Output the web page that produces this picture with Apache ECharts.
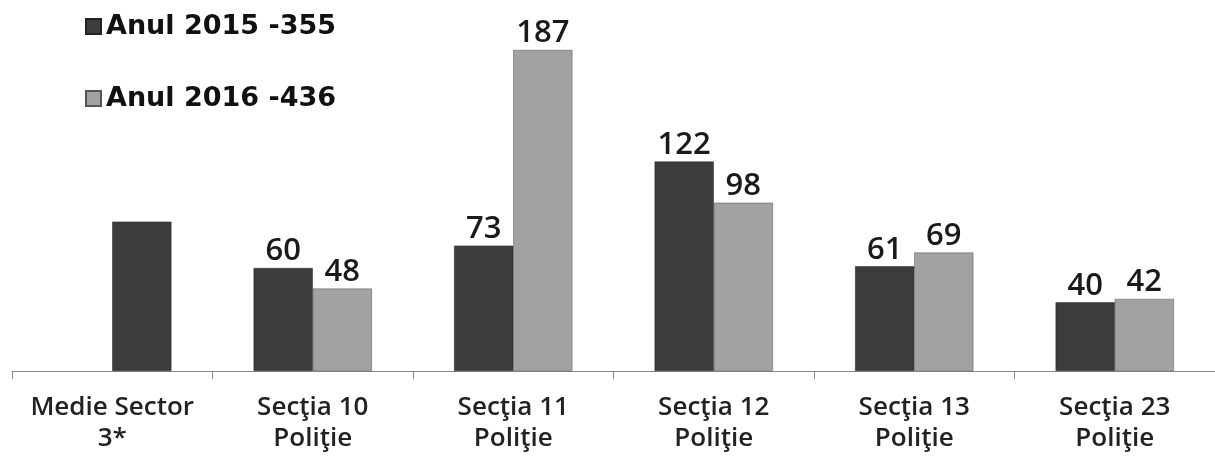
<!DOCTYPE html>
<html><head><meta charset="utf-8">
<script src="https://cdn.jsdelivr.net/npm/echarts@6/dist/echarts.min.js"></script>
<style>html,body{margin:0;padding:0;background:#fff}#c{width:1215px;height:456px}</style>
</head><body><div id="c"></div>
<script>
const categories = ['Medie Sector\n3*', 'Secţia 10\nPoliţie', 'Secţia 11\nPoliţie', 'Secţia 12\nPoliţie', 'Secţia 13\nPoliţie', 'Secţia 23\nPoliţie'];
const seriesNames = ['Anul 2015 -355', 'Anul 2016 -436'];
const values2015 = [null, 60, 73, 122, 61, 40];
const values2016 = [87, 48, 187, 98, 69, 42];
const colors = ['#3c3c3c', '#a2a2a2'];

const chart = echarts.init(document.getElementById('c'));
const labelStyle = {show: true, position: 'top', distance: 1, fontSize: 31, fontWeight: 600, fontFamily: 'Open Sans', color: '#1a1a1a'};
chart.setOption({
  animation: false,
  legend: {
    left: 80, top: 8, orient: 'vertical', itemGap: 45, itemWidth: 15, itemHeight: 15,
    icon: 'rect',
    textStyle: {fontSize: 27, fontWeight: 'bold', fontFamily: 'DejaVu Sans', color: '#111'},
    data: seriesNames
  },
  grid: {left: 12, right: 0, top: 50, bottom: 85, containLabel: false},
  xAxis: {
    type: 'category', data: categories,
    axisLine: {lineStyle: {color: '#888', width: 1}},
    axisTick: {show: true, length: 8, lineStyle: {color: '#888'}},
    axisLabel: {fontSize: 26, fontWeight: 600, fontFamily: 'Open Sans', color: '#222', lineHeight: 31, margin: 21, interval: 0}
  },
  yAxis: {type: 'value', min: 0, max: 187, show: false, splitLine: {show: false}},
  series: [
    {name: seriesNames[0], type: 'bar', data: values2015, barGap: '0%', barCategoryGap: '41%',
     itemStyle: {color: colors[0], borderColor: '#222', borderWidth: 0.5}, label: labelStyle},
    {name: seriesNames[1], type: 'bar',
     data: values2016.map((v, i) => i === 0 ? {value: v, itemStyle: {color: colors[0], borderColor: '#222'}, label: {show: false}} : v),
     itemStyle: {color: colors[1], borderColor: '#555', borderWidth: 0.5}, label: labelStyle}
  ]
});
</script></body></html>
